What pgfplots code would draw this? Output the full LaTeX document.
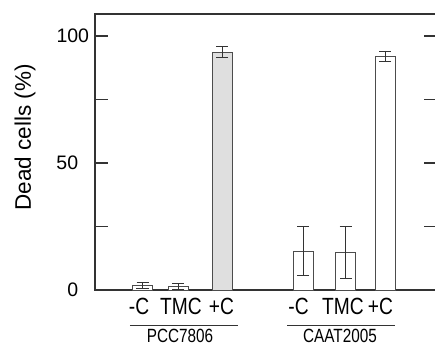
\documentclass[border=0pt]{standalone}
\usepackage{pgfplots}
\usepackage{graphicx}
\pgfplotsset{compat=1.18}
\usepackage{fontspec}
\setmainfont{Liberation Sans}
\newcommand{\cl}[1]{\scalebox{1}[1.22]{#1}}
\begin{document}
\begin{tikzpicture}[x=1bp,y=1bp]
\begin{axis}[
  scale only axis, width=342bp, height=276bp,
  at={(0bp,0bp)}, anchor=south west,
  xmin=95, xmax=437, ymin=0, ymax=108.66,
  clip=false,
  axis line style={black!80, line width=1.1bp},
  /pgf/number format/assume math mode=true,
  ytick={0,25,50,75,100},
  yticklabels={0,,50,,{100\kern-11bp}},
  ytick pos=both,
  tick align=inside,
  major tick length=13bp,
  every tick/.style={black!80, line width=1.1bp},
  yticklabel style={inner sep=0pt, xshift=-16.7bp, font=\fontsize{19.5bp}{20bp}\selectfont},
  xtick={139,181,221.5,298.5,343,380.5},
  xticklabels={\cl{-C},\cl{TMC},\cl{+C},\cl{-C},\cl{TMC},\cl{+C}},
  x tick style={draw=none},
  xtick pos=bottom,
  xticklabel style={anchor=base, inner sep=0pt, yshift=-24.5bp, font=\fontsize{19.2bp}{20bp}\selectfont},
  ylabel={Dead cells (\%)},
  ylabel style={at={(axis description cs:-0.2047,0.5525)}, anchor=center, rotate=0, inner sep=0pt, font=\fontsize{22.5bp}{24bp}\selectfont},
]
% white bars
\addplot[ybar, bar width=20, bar shift=0pt, fill=white, draw=black!70, line width=0.9bp,
  error bars/.cd, y dir=both, y explicit,
  error bar style={black!80, line width=0.9bp},
  error mark options={rotate=90, mark size=6bp, black!80, line width=0.9bp}]
  table[x=x, y=y, y error=e]{
x y e
142.5 1.8 1.3
178.3 1.5 1.1
303 15.3 9.7
345.7 14.8 10.2
385 92.0 2.1
};
% grey bar
\addplot[ybar, bar width=20, bar shift=0pt, fill=gray!25, draw=black!70, line width=0.9bp,
  error bars/.cd, y dir=both, y explicit,
  error bar style={black!80, line width=0.9bp},
  error mark options={rotate=90, mark size=6bp, black!80, line width=0.9bp}]
  table[x=x, y=y, y error=e]{
x y e
222.2 93.7 2.2
};
\draw[black!80, line width=1.1bp] (axis cs:130,-13.86) -- (axis cs:238,-13.86);
\draw[black!80, line width=1.1bp] (axis cs:287,-13.86) -- (axis cs:395,-13.86);
\node[anchor=base, inner sep=0pt, font=\fontsize{15.3bp}{16bp}\selectfont] at (axis cs:180,-20.7) {\scalebox{1}[1.25]{PCC7806}};
\node[anchor=base, inner sep=0pt, font=\fontsize{15.3bp}{16bp}\selectfont] at (axis cs:340,-20.7) {\scalebox{1}[1.25]{CAAT2005}};
\end{axis}
\pgfresetboundingbox
\path[use as bounding box] (-95bp,-59bp) rectangle (340bp,290bp);
\end{tikzpicture}
\end{document}
